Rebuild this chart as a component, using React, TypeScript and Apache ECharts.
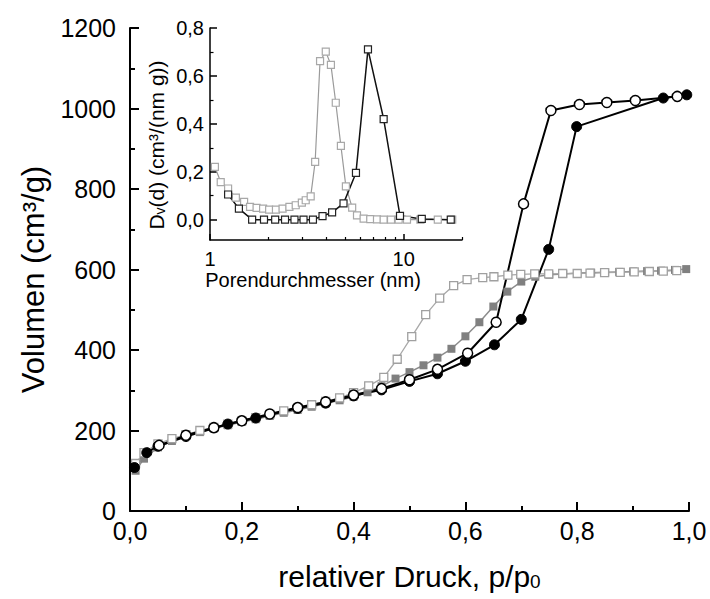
import React, { useEffect, useRef } from "react";
import * as echarts from "echarts";

// ---- Main isotherms: relative pressure p/p0 vs. volume (cm³/g) ----
// Sample A, adsorption (filled black circles)
const aAdsP = [0.008, 0.03, 0.05, 0.1, 0.175, 0.225, 0.3, 0.35, 0.4, 0.45, 0.5, 0.55, 0.6, 0.652, 0.7, 0.749, 0.799, 0.954, 0.996];
const aAdsV = [108, 145, 161, 185, 216, 231, 255, 268, 286, 301, 322, 341, 372, 413, 476, 650, 955, 1026, 1034];
// Sample A, desorption (open circles)
const aDesP = [0.979, 0.904, 0.853, 0.804, 0.753, 0.704, 0.655, 0.604, 0.55, 0.5, 0.45, 0.4, 0.35, 0.3, 0.25, 0.2, 0.15, 0.1, 0.052];
const aDesV = [1030, 1020, 1015, 1010, 995, 763, 469, 392, 352, 326, 304, 288, 271, 257, 241, 224, 207, 188, 163];
// Sample B, adsorption (filled grey squares)
const bAdsP = [0.01, 0.025, 0.05, 0.075, 0.1, 0.125, 0.15, 0.175, 0.2, 0.225, 0.25, 0.275, 0.3, 0.325, 0.35, 0.375, 0.4, 0.425, 0.45, 0.475, 0.5, 0.525, 0.55, 0.575, 0.6, 0.625, 0.65, 0.675, 0.7, 0.725, 0.75, 0.775, 0.8, 0.825, 0.85, 0.875, 0.9, 0.925, 0.95, 0.975, 0.995];
const bAdsV = [100, 130, 158, 174, 186, 196, 205, 213, 221, 228, 236, 244, 251, 259, 267, 275, 284, 295, 310, 329, 345, 362, 381, 403, 434, 469, 508, 545, 570, 582, 587, 589, 591, 592, 593, 594, 595, 596, 597, 599, 601];
// Sample B, desorption (open grey squares)
const bDesP = [0.978, 0.954, 0.929, 0.902, 0.877, 0.849, 0.823, 0.8, 0.774, 0.749, 0.724, 0.699, 0.676, 0.651, 0.631, 0.603, 0.579, 0.554, 0.529, 0.504, 0.478, 0.454, 0.427, 0.4, 0.375, 0.35, 0.325, 0.3, 0.275, 0.25, 0.225, 0.2, 0.175, 0.15, 0.125, 0.1, 0.075, 0.05, 0.025, 0.01];
const bDesV = [597, 596, 595, 594, 593, 592, 591, 590, 590, 589, 589, 588, 586, 582, 580, 575, 560, 529, 488, 433, 377, 332, 311, 294, 281, 272, 264, 256, 249, 240, 232, 224, 216, 208, 200, 190, 180, 167, 145, 118];

// ---- Inset: pore size distribution ----
const psdAD = [1.24, 1.41, 1.65, 1.9, 2.17, 2.44, 2.73, 3.04, 3.4, 3.81, 4.27, 4.89, 5.67, 6.54, 7.88, 9.57, 12.4, 17.5];
const psdAV = [0.105, 0.046, 0, 0, 0, 0, 0, 0, 0, 0.015, 0.03, 0.068, 0.195, 0.711, 0.42, 0.016, 0.003, 0.0];
const psdBD = [1.06, 1.136, 1.24, 1.36, 1.5, 1.61, 1.74, 1.88, 2.02, 2.19, 2.37, 2.57, 2.77, 2.98, 3.12, 3.31, 3.49, 3.7, 3.96, 4.21, 4.46, 4.74, 5.03, 5.42, 5.74, 6.21, 6.72, 7.28, 7.88, 8.6, 9.42, 10.4, 12.2, 15.0, 17.8];
const psdBV = [0.22, 0.157, 0.13, 0.092, 0.074, 0.053, 0.049, 0.046, 0.042, 0.042, 0.046, 0.053, 0.06, 0.071, 0.081, 0.097, 0.241, 0.662, 0.701, 0.646, 0.488, 0.308, 0.139, 0.05, 0.018, 0.004, 0.002, 0.001, 0, 0, 0, 0, 0, 0, 0];

// Tick definitions
const insetYMajor = [0, 0.2, 0.4, 0.6, 0.8];
const insetYMinor = [0.1, 0.3, 0.5, 0.7];
const insetXMajor = [1, 10];
const insetXMinor = [2, 3, 4, 5, 6, 7, 8, 9, 20];

const FONT = "Liberation Sans, Arial, sans-serif";
const pairs = (xs: number[], ys: number[]) => xs.map((x, i) => [x, ys[i]]);
const comma1 = (v: number) => v.toFixed(1).replace(".", ",");
const plain = (v: number) => String(Math.round(v));

export default function App() {
  const ref = useRef<HTMLDivElement>(null);
  useEffect(() => {
    if (!ref.current) return;
    const chart = echarts.init(ref.current, undefined, { renderer: "svg" });
    const axisLine = { show: true, onZero: false, lineStyle: { color: "#000", width: 2 } };
    const insetLine = { show: true, onZero: false, lineStyle: { color: "#000", width: 1.5 } };
    chart.setOption({
      animation: false,
      backgroundColor: "#fff",
      textStyle: { fontFamily: FONT },
      grid: [
        { left: 130, right: 21, top: 28, bottom: 88 },
        { left: 210, top: 28, width: 252, height: 212 },
      ],
      xAxis: [
        {
          type: "value", gridIndex: 0, min: 0, max: 1, interval: 0.2,
          axisLine, splitLine: { show: false },
          axisTick: { inside: true, length: 9, lineStyle: { color: "#000", width: 2 } },
          minorTick: { show: true, splitNumber: 2, length: 5, lineStyle: { color: "#000", width: 2 } },
          axisLabel: { formatter: comma1, fontSize: 25, color: "#000", margin: 7, fontFamily: FONT },
          name: "{a|relativer Druck, p/p}{s|0}", nameLocation: "middle", nameGap: 46,
          nameTextStyle: {
            rich: {
              a: { fontSize: 30, color: "#000", fontFamily: FONT, lineHeight: 34, verticalAlign: "bottom" },
              s: { fontSize: 19, color: "#000", fontFamily: FONT, lineHeight: 19, padding: [15, 0, 0, 0], verticalAlign: "bottom" },
            },
          },
        },
        {
          type: "log", logBase: 10, gridIndex: 1, min: 1, max: 20, position: "bottom",
          axisLine: insetLine, splitLine: { show: false }, minorTick: { show: false },
          axisTick: { inside: true, length: 6, customValues: insetXMajor, lineStyle: { color: "#000", width: 1.5 } },
          axisLabel: { customValues: insetXMajor, fontSize: 20, color: "#000", margin: 9, fontFamily: FONT },
          name: "Porendurchmesser (nm)", nameLocation: "middle", nameGap: 25,
          nameTextStyle: { fontSize: 20, color: "#000", fontFamily: FONT, padding: [0, 46, 0, 0] },
        },
        {
          type: "log", logBase: 10, gridIndex: 1, min: 1, max: 20, position: "bottom",
          axisLine: { show: false, onZero: false }, splitLine: { show: false }, axisLabel: { show: false },
          axisTick: { inside: true, length: 3, customValues: insetXMinor, lineStyle: { color: "#000", width: 1.2 } },
        },
      ],
      yAxis: [
        {
          type: "value", gridIndex: 0, min: 0, max: 1200, interval: 200,
          axisLine, splitLine: { show: false },
          axisTick: { inside: true, length: 9, lineStyle: { color: "#000", width: 2 } },
          minorTick: { show: true, splitNumber: 2, length: 5, lineStyle: { color: "#000", width: 2 } },
          axisLabel: { formatter: plain, fontSize: 25, color: "#000", margin: 14, fontFamily: FONT },
          name: "Volumen (cm³/g)", nameLocation: "middle", nameGap: 70,
          nameTextStyle: { fontSize: 31, color: "#000", fontFamily: FONT, padding: [0, 20, 0, 0] },
        },
        {
          type: "value", gridIndex: 1, min: -0.085, max: 0.8, position: "left",
          axisLine: insetLine, splitLine: { show: false },
          axisTick: { inside: true, length: 7, customValues: insetYMajor, lineStyle: { color: "#000", width: 1.5 } },
          axisLabel: { customValues: insetYMajor, formatter: comma1, fontSize: 20, color: "#000", margin: 6, fontFamily: FONT },
          name: "{a|D}{s|v}{a|(d) (cm³/(nm g))}", nameLocation: "middle", nameGap: 43,
          nameTextStyle: {
            padding: [0, 22, 0, 0],
            rich: {
              a: { fontSize: 21, color: "#000", fontFamily: FONT, lineHeight: 24, verticalAlign: "bottom" },
              s: { fontSize: 14, color: "#000", fontFamily: FONT, lineHeight: 14, padding: [10, 0, 0, 0], verticalAlign: "bottom" },
            },
          },
        },
        {
          type: "value", gridIndex: 1, min: -0.085, max: 0.8, position: "left",
          axisLine: { show: false, onZero: false }, splitLine: { show: false }, axisLabel: { show: false },
          axisTick: { inside: true, length: 3.5, customValues: insetYMinor, lineStyle: { color: "#000", width: 1.2 } },
        },
      ],
      series: [
        {
          type: "line", xAxisIndex: 0, yAxisIndex: 0, data: pairs(bAdsP, bAdsV),
          symbol: "rect", symbolSize: 8,
          itemStyle: { color: "#808080", borderColor: "#808080", borderWidth: 0 },
          lineStyle: { color: "#8c8c8c", width: 1.5 },
        },
        {
          type: "line", xAxisIndex: 0, yAxisIndex: 0, data: pairs(bDesP, bDesV),
          symbol: "rect", symbolSize: 8, showAllSymbol: true,
          itemStyle: { color: "#fff", borderColor: "#a0a0a0", borderWidth: 1.3 },
          lineStyle: { color: "#a8a8a8", width: 1.3 },
        },
        {
          type: "line", xAxisIndex: 0, yAxisIndex: 0, data: pairs(aAdsP, aAdsV),
          symbol: "circle", symbolSize: 10,
          itemStyle: { color: "#000", borderColor: "#000", borderWidth: 1 },
          lineStyle: { color: "#000", width: 2 },
        },
        {
          type: "line", xAxisIndex: 0, yAxisIndex: 0, data: pairs(aDesP, aDesV),
          symbol: "circle", symbolSize: 10,
          itemStyle: { color: "#fff", borderColor: "#000", borderWidth: 1.5 },
          lineStyle: { color: "#000", width: 2 },
        },
        {
          type: "line", xAxisIndex: 1, yAxisIndex: 1, data: pairs(psdBD, psdBV),
          symbol: "rect", symbolSize: 7, showAllSymbol: true,
          itemStyle: { color: "#fff", borderColor: "#a8a8a8", borderWidth: 1.2 },
          lineStyle: { color: "#9a9a9a", width: 1.2 },
        },
        {
          type: "line", xAxisIndex: 1, yAxisIndex: 1, data: pairs(psdAD, psdAV),
          symbol: "rect", symbolSize: 7, showAllSymbol: true,
          itemStyle: { color: "#fff", borderColor: "#222", borderWidth: 1.2 },
          lineStyle: { color: "#111", width: 1.5 },
        },
      ],
    });
    return () => chart.dispose();
  }, []);
  return <div ref={ref} style={{ position: "fixed", left: 0, top: 0, width: 710, height: 599 }} />;
}
